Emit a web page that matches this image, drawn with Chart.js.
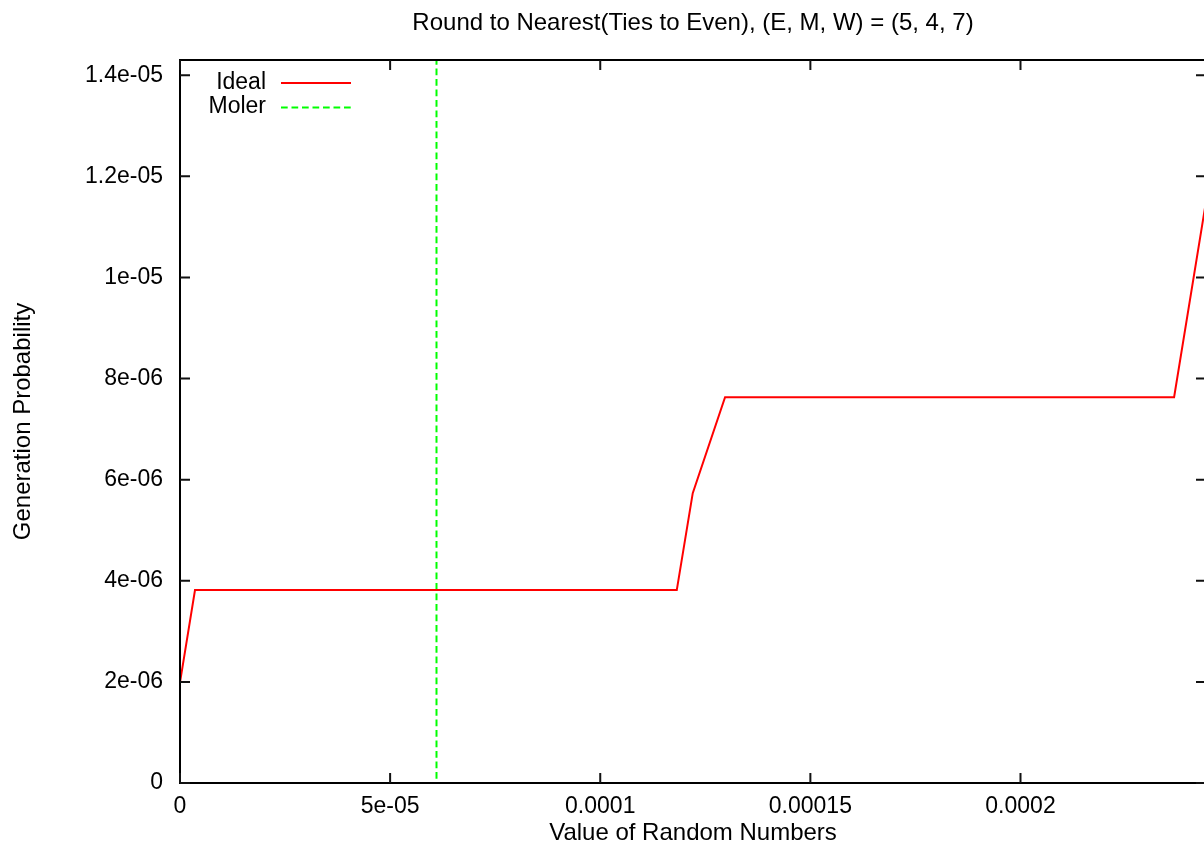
<!DOCTYPE html>
<html><head><meta charset="utf-8">
<script src="https://cdn.jsdelivr.net/npm/chart.js@4/dist/chart.umd.min.js"></script>
<style>
html,body{margin:0;padding:0;overflow:hidden;background:#fff;width:1204px;height:856px;}
#wrap{position:relative;width:1384px;height:856px;}
</style></head><body>
<div id="wrap"><canvas id="c" width="1384" height="856"></canvas></div>
<script>
const chartTitle = 'Round to Nearest(Ties to Even), (E, M, W) = (5, 4, 7)';
const xAxisTitle = 'Value of Random Numbers';
const yAxisTitle = 'Generation Probability';
const seriesNames = ['Ideal', 'Moler'];
const idealX = [0, 3.57e-6, 1.1821e-4, 1.2201e-4, 1.297e-4, 2.3655e-4, 2.44140625e-4];
const idealY = [1.99e-6, 3.815e-6, 3.815e-6, 5.733e-6, 7.631e-6, 7.631e-6, 1.15e-5];
const molerX = [6.1035e-5, 6.1035e-5, 2.44140625e-4];
const molerY = [1.6e-5, 0, 0];
const xTickValues = [0, 5e-5, 1e-4, 1.5e-4, 2e-4];
const xTickLabels = ['0', '5e-05', '0.0001', '0.00015', '0.0002'];
const yTickValues = [0, 2e-6, 4e-6, 6e-6, 8e-6, 1e-5, 1.2e-5, 1.4e-5];
const yTickLabels = ['0', '2e-06', '4e-06', '6e-06', '8e-06', '1e-05', '1.2e-05', '1.4e-05'];
const xRange = [0, 2.44140625e-4];
const yRange = [0, 1.43e-5];

const FONT = 'Liberation Sans';
Chart.defaults.font.family = FONT;
Chart.defaults.font.size = 23;
Chart.defaults.color = '#000';

function labelFor(values, labels, v) {
  for (let i = 0; i < values.length; i++) {
    if (Math.abs(values[i] - v) < 1e-12) return labels[i];
  }
  return '';
}

const framePlugin = {
  id: 'frame',
  afterDatasetsDraw(chart) {
    const {ctx, chartArea: a, scales: {x, y}} = chart;
    ctx.save();
    ctx.strokeStyle = '#000';
    ctx.lineWidth = 2;
    ctx.strokeRect(a.left, a.top, a.right - a.left, a.bottom - a.top);
    ctx.lineWidth = 2;
    ctx.strokeStyle = '#111';
    const L = 10;
    ctx.beginPath();
    x.ticks.forEach(t => {
      const px = x.getPixelForValue(t.value);
      ctx.moveTo(px, a.bottom); ctx.lineTo(px, a.bottom - L);
      ctx.moveTo(px, a.top); ctx.lineTo(px, a.top + L);
    });
    y.ticks.forEach(t => {
      const py = y.getPixelForValue(t.value);
      ctx.moveTo(a.left, py); ctx.lineTo(a.left + L, py);
      ctx.moveTo(a.right, py); ctx.lineTo(a.right - L, py);
    });
    ctx.stroke();
    // legend
    ctx.font = '23px "' + FONT + '"';
    ctx.textAlign = 'right';
    ctx.textBaseline = 'middle';
    chart.data.datasets.forEach((ds, i) => {
      const cy = a.top + 22.5 + i * 24.5;
      ctx.fillStyle = '#000';
      ctx.fillText(ds.label, a.left + 86, cy);
      ctx.strokeStyle = ds.borderColor;
      ctx.lineWidth = ds.borderWidth;
      ctx.setLineDash(ds.borderDash || []);
      ctx.beginPath();
      ctx.moveTo(a.left + 101, cy + 0.5);
      ctx.lineTo(a.left + 171, cy + 0.5);
      ctx.stroke();
      ctx.setLineDash([]);
    });
    ctx.restore();
  }
};

new Chart(document.getElementById('c'), {
  type: 'line',
  data: {
    datasets: [
      {
        label: seriesNames[0],
        data: idealX.map((v, i) => ({x: v, y: idealY[i]})),
        borderColor: '#ff0000',
        borderWidth: 2,
        pointRadius: 0,
        fill: false,
        tension: 0
      },
      {
        label: seriesNames[1],
        data: molerX.map((v, i) => ({x: v, y: molerY[i]})),
        borderColor: '#00ff00',
        borderWidth: 2,
        borderDash: [6.7, 3.8],
        pointRadius: 0,
        fill: false,
        tension: 0
      }
    ]
  },
  options: {
    responsive: false,
    animation: false,
    devicePixelRatio: 1,
    layout: {padding: {left: 0, right: 178, top: 0, bottom: 0}},
    plugins: {
      legend: {display: false},
      tooltip: {enabled: false},
      title: {
        display: true,
        fullSize: false,
        text: chartTitle,
        color: '#000',
        font: {family: FONT, size: 24, weight: 'normal'},
        padding: {top: 8.5, bottom: 22.7}
      }
    },
    scales: {
      x: {
        type: 'linear',
        position: 'bottom',
        min: xRange[0],
        max: xRange[1],
        afterBuildTicks: s => { s.ticks = xTickValues.map(v => ({value: v})); },
        afterFit: s => { s.height = 73; },
        grid: {display: false, drawTicks: false},
        border: {display: false},
        ticks: {
          padding: 10,
          maxRotation: 0,
          autoSkip: false,
          callback: v => labelFor(xTickValues, xTickLabels, v)
        },
        title: {display: true, text: xAxisTitle, font: {size: 24}, padding: {top: 0, bottom: 8}}
      },
      y: {
        type: 'linear',
        position: 'left',
        min: yRange[0],
        max: yRange[1],
        afterBuildTicks: s => { s.ticks = yTickValues.map(v => ({value: v})); },
        afterFit: s => { s.width = 180; },
        grid: {display: false, drawTicks: false},
        border: {display: false},
        ticks: {
          padding: 17,
          autoSkip: false,
          callback: v => labelFor(yTickValues, yTickLabels, v)
        },
        title: {display: true, text: yAxisTitle, font: {size: 24}, padding: {top: 9, bottom: 0}}
      }
    }
  },
  plugins: [framePlugin]
});
</script>
</body></html>
